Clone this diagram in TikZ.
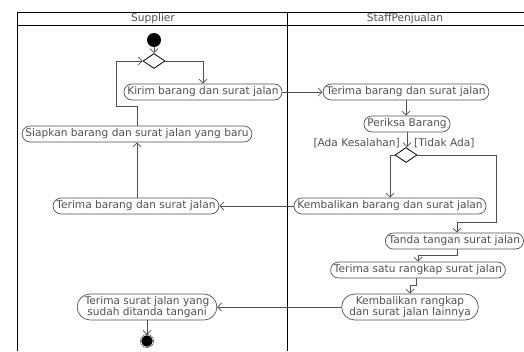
\documentclass[tikz,border=0pt]{standalone}
\usepackage{fontspec}
\setmainfont{DejaVu Sans}
\usetikzlibrary{arrows.meta,shapes.misc,shapes.geometric}
\definecolor{ink}{HTML}{505050}
\definecolor{txt}{HTML}{505050}
\tikzset{
  act/.style={rounded rectangle, draw=ink, line width=0.7pt, text=txt, font=\fontsize{10.6}{11.5}\selectfont, inner xsep=1.5pt, inner ysep=2pt, minimum height=16pt},
  act2/.style={act, align=center, font=\fontsize{10.6}{11.8}\selectfont, minimum height=26pt, inner ysep=1pt},
  dec/.style={diamond, draw=black, line width=0.8pt, minimum width=22pt, minimum height=15pt, inner sep=0pt, aspect=1.5},
  flow/.style={draw=ink, line width=0.7pt, -{Straight Barb[length=4pt,width=8pt]}},
  lane/.style={draw=black, line width=0.9pt},
  lbl/.style={text=txt, font=\fontsize{10.6}{11.5}\selectfont, inner sep=0pt},
  startdot/.style={circle, fill=black, minimum size=14pt, inner sep=0pt},
  enddot/.style={circle, fill=black, draw=black, double=white, double distance=0.6pt, minimum size=12pt, inner sep=0pt}
}
\begin{document}
\begin{tikzpicture}[x=1pt,y=-1pt]
\useasboundingbox (0,0) rectangle (524,351);
% lanes
\draw[lane] (17,351) -- (17,12) -- (524,12);
\draw[lane] (17,25) -- (524,25);
\draw[lane] (287,12) -- (287,351);
\node[lbl] (hs) at (153,18.5) {Supplier};
\node[lbl] (hp) at (405,18.5) {StaffPenjualan};
% nodes
\node[startdot] (start) at (154,40) {};
\node[dec] (d1) at (154,61) {};
\node[act] (kirim) at (203,92) {Kirim barang dan surat jalan};
\node[act] (terimaS) at (406,92) {Terima barang dan surat jalan};
\node[act] (periksa) at (407,124) {Periksa Barang};
\node[dec] (d2) at (406,155) {};
\node[lbl, anchor=east] (ada) at (400,143) {[Ada Kesalahan]};
\node[lbl, anchor=west] (tidak) at (414,143) {[Tidak Ada]};
\node[act] (kemb) at (390,206) {Kembalikan barang dan surat jalan};
\node[act] (terimaSup) at (136,206) {Terima barang dan surat jalan};
\node[act] (siapkan) at (137,134) {Siapkan barang dan surat jalan yang baru};
\node[act, anchor=west] (tanda) at (385,241) {Tanda tangan surat jalan};
\node[act] (terimaSatu) at (418,270) {Terima satu rangkap surat jalan};
\node[act2] (kembR) at (410,307) {Kembalikan rangkap\\dan surat jalan lainnya};
\node[act2] (terimaSurat) at (147,307) {Terima surat jalan yang\\sudah ditanda tangani};
\node[enddot] (end) at (147,341) {};
% coordinates
\coordinate (l1) at (116,106);
\coordinate (r1) at (496,222);
\coordinate (t1) at (457,255);
\coordinate (t2) at (416,285);
% flows
\draw[flow] (start) -- (d1.north);
\draw[flow] (d1.east) -| (kirim.north);
\draw[flow] (kirim.east) -- (terimaS.west);
\draw[flow] (terimaS.south) -- (terimaS.south |- periksa.north);
\draw[flow] (periksa.south) -- (periksa.south |- d2.north);
\draw[flow] (d2.west) -| (kemb.north);
\draw[flow] (d2.east) -| (r1) -| (tanda.north -| t1);
\draw[flow] (tanda.south -| t1) |- (t1 -| terimaSatu.north) -- (terimaSatu.north);
\draw[flow] (terimaSatu.south -| t2) |- (t2 -| kembR.north) -- (kembR.north);
\draw[flow] (kembR.west) -- (terimaSurat.east);
\draw[flow] (terimaSurat.south) -- (end.north);
\draw[flow] (kemb.west) -- (terimaSup.east);
\draw[flow] (terimaSup.north -| siapkan.south) -- (siapkan.south);
\draw[flow] (siapkan.north) |- (l1) |- (d1.west);
\end{tikzpicture}
\end{document}
